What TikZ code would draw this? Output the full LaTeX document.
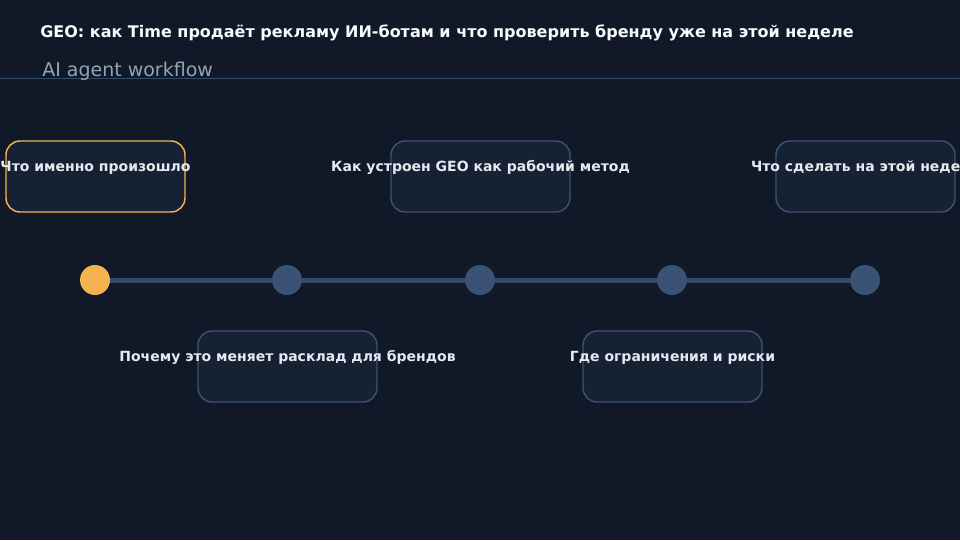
\documentclass[tikz,border=0pt]{standalone}
\usepackage{fontspec}
\setmainfont{DejaVu Sans}
\definecolor{fon}{HTML}{111827}
\definecolor{karta}{HTML}{172134}
\definecolor{ramka}{HTML}{3A5273}
\definecolor{liniya}{HTML}{334B6B}
\definecolor{oranzh}{HTML}{F4B350}
\definecolor{belyj}{HTML}{F8FAFC}
\definecolor{svet}{HTML}{E5E9F0}
\definecolor{seryj}{HTML}{94A3B8}
\newcommand{\etap}[5]
{
	\node[kartochka,#4] (k#1) at (#2,#3) {};
	\node[podpis] (p#1) at ([yshift=4.1pt]k#1.center) {#5};
}

\begin{document}
\begin{tikzpicture}[x=0.75pt,y=-0.75pt,
	kartochka/.style={draw=ramka,fill=karta,line width=1.1pt,rounded corners=10.5pt,minimum width=134.25pt,minimum height=53.25pt,inner sep=0pt},
	podpis/.style={text=svet,font=\bfseries\fontsize{10.5}{13}\selectfont,anchor=base,inner sep=0pt},
	tochka/.style={circle,fill=ramka,minimum size=22.5pt,inner sep=0pt}]
	\fill[fon,use as bounding box] (0,0) rectangle (960,540);
	\node[anchor=base west,inner sep=0pt,text=belyj,font=\bfseries\fontsize{12}{15}\selectfont] (zag) at (40,37) {GEO: как Time продаёт рекламу ИИ-ботам и что проверить бренду уже на этой неделе};
	\draw[liniya,line width=0.75pt] (0,78.5) -- (960,78.5);
	\node[anchor=base west,inner sep=0pt,text=seryj,font=\fontsize{14.25}{17}\selectfont] (podzag) at (42,76) {AI agent workflow};
	\etap{1}{95.5}{176.5}{draw=oranzh}{Что именно произошло}
	\etap{2}{287.5}{366.5}{}{Почему это меняет расклад для брендов}
	\etap{3}{480.5}{176.5}{}{Как устроен GEO как рабочий метод}
	\etap{4}{672.5}{366.5}{}{Где ограничения и риски}
	\etap{5}{865.5}{176.5}{}{Что сделать на этой неделе}
	\node[tochka,fill=oranzh] (t1) at (95,280) {};
	\node[tochka] (t2) at (287,280) {};
	\node[tochka] (t3) at (480,280) {};
	\node[tochka] (t4) at (672,280) {};
	\node[tochka] (t5) at (865,280) {};
	\foreach \a/\b in {t1/t2,t2/t3,t3/t4,t4/t5}
		\draw[liniya,line width=3.75pt] (\a) -- (\b);
\end{tikzpicture}
\end{document}
